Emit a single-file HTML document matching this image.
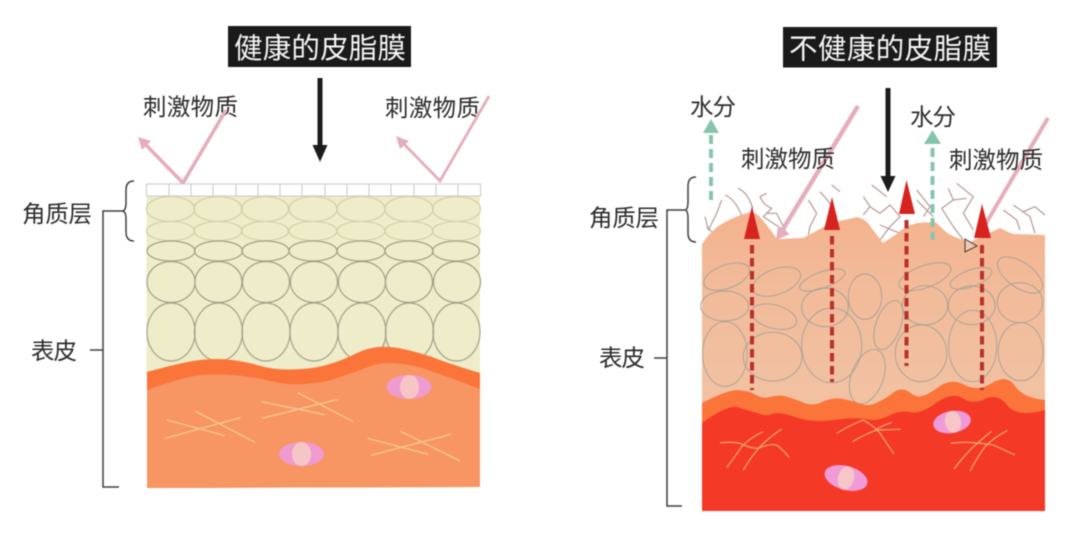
<!DOCTYPE html>
<html lang="zh">
<head>
<meta charset="utf-8">
<style>
html,body{margin:0;padding:0;background:#fff;width:1080px;height:548px;overflow:hidden}
svg{display:block;filter:blur(.45px)}
text{font-family:"Liberation Sans","Noto Sans CJK SC",sans-serif;font-weight:400}
</style>
</head>
<body>
<svg width="1080" height="548" viewBox="0 0 1080 548" xmlns="http://www.w3.org/2000/svg">
<defs>
<linearGradient id="skin" x1="0" y1="0" x2="0" y2="1"><stop offset="0" stop-color="#f5b28d"/><stop offset=".35" stop-color="#f2bb9a"/><stop offset="1" stop-color="#f1c3a4"/></linearGradient>
</defs>
<rect width="1080" height="548" fill="#fff"/>

<!-- LEFT -->
<rect x="228" y="26" width="183" height="41" fill="#1a1a1a"/>
<text x="234" y="58" font-size="28.5" fill="#f5f5f5" textLength="172" lengthAdjust="spacing">健康的皮脂膜</text>
<rect x="317.5" y="78" width="5" height="68" fill="#1c1c1e"/>
<polygon points="312.5,145 327.5,145 320,162" fill="#1c1c1e"/>
<text x="143" y="115" font-size="23.5" fill="#2c2c2c" textLength="95">刺激物质</text>
<text x="385" y="116" font-size="23.5" fill="#2c2c2c" textLength="95">刺激物质</text>

<g fill="none" stroke="#e5aebb">
<polyline points="226,110 183,183 146,145" stroke-width="3.6"/>
<polyline points="489,96 440,181 401,141" stroke-width="2.8"/>
</g>
<polygon points="138,137 151,141 142,150" fill="#e5aebb"/>
<polygon points="396,136 409,141 400,149" fill="#e5aebb"/>

<rect x="146.5" y="196" width="333.5" height="180" fill="#eeecc9"/>
<g fill="none" stroke="#c9c9cd" stroke-width="1">
<rect x="146.5" y="184" width="334" height="12" fill="#fff"/>
<path d="M169 184v12M191 184v12M213 184v12M236 184v12M258 184v12M280 184v12M302 184v12M325 184v12M347 184v12M369 184v12M391 184v12M414 184v12M436 184v12M458 184v12"/>
</g>
<g fill="none" stroke="#d0cea2" stroke-width="1.1">
<ellipse cx="170.5" cy="209" rx="24" ry="12.5"/><ellipse cx="218" cy="209" rx="24" ry="12.5"/><ellipse cx="265" cy="209" rx="23.5" ry="12.5"/><ellipse cx="313" cy="209" rx="24" ry="12.5"/><ellipse cx="361" cy="209" rx="24" ry="12.5"/><ellipse cx="409" cy="209" rx="24" ry="12.5"/><ellipse cx="456.5" cy="209" rx="24" ry="12.5"/>
<ellipse cx="170.5" cy="231" rx="24" ry="9.5"/><ellipse cx="218" cy="231" rx="24" ry="9.5"/><ellipse cx="265" cy="231" rx="23.5" ry="9.5"/><ellipse cx="313" cy="231" rx="24" ry="9.5"/><ellipse cx="361" cy="231" rx="24" ry="9.5"/><ellipse cx="409" cy="231" rx="24" ry="9.5"/><ellipse cx="456.5" cy="231" rx="24" ry="9.5"/>
</g>
<g fill="none" stroke="#a2a188" stroke-width="1.2">
<ellipse cx="171" cy="251" rx="24" ry="10"/><ellipse cx="218.5" cy="251" rx="24" ry="10"/><ellipse cx="265.5" cy="251" rx="23.5" ry="10"/><ellipse cx="313" cy="251" rx="24" ry="10"/><ellipse cx="361" cy="251" rx="24" ry="10"/><ellipse cx="409" cy="251" rx="24" ry="10"/><ellipse cx="456" cy="251" rx="23.5" ry="10"/>
<ellipse cx="171" cy="282" rx="24" ry="20.5"/><ellipse cx="218.5" cy="282" rx="23.5" ry="20.5"/><ellipse cx="266" cy="282" rx="23.5" ry="20.5"/><ellipse cx="314" cy="282" rx="23.5" ry="20.5"/><ellipse cx="362" cy="282" rx="23.5" ry="20.5"/><ellipse cx="409" cy="282" rx="23.5" ry="20.5"/><ellipse cx="457" cy="282" rx="23.5" ry="20.5"/>
<ellipse cx="171" cy="332" rx="24" ry="29"/><ellipse cx="218.5" cy="332" rx="24" ry="29"/><ellipse cx="266" cy="332" rx="24" ry="29"/><ellipse cx="314" cy="332" rx="24" ry="29"/><ellipse cx="362" cy="332" rx="24" ry="29"/><ellipse cx="409.5" cy="332" rx="24" ry="29"/><ellipse cx="456.5" cy="332" rx="23.5" ry="29"/>
</g>
<path d="M147,372 Q183,362 200,360 Q217,358 232,360 Q247,362 257,365 Q267,368 277,369 Q287,370 302,369 Q317,368 330,364 Q343,360 355,354 Q367,348 378,347 Q390,346 403,349 Q417,352 432,357 Q447,363 480,373 L480,487 L147,488 Z" fill="#fb7439"/>
<path d="M147,390 Q183,377 200,375 Q217,374 232,375 Q247,376 262,379 Q277,383 288,384 Q300,385 313,383 Q327,382 340,377 Q353,373 365,368 Q377,363 388,363 Q400,363 415,366 Q430,370 480,389 L480,487 L147,488 Z" fill="#f79563"/>
<ellipse cx="409" cy="387" rx="22.5" ry="12" fill="#f09bd0"/><ellipse cx="409.5" cy="387" rx="9.5" ry="12" fill="#f6c6c6"/>
<ellipse cx="301.5" cy="454" rx="22.5" ry="12" fill="#f09bd0"/><ellipse cx="301.5" cy="454" rx="9.5" ry="12" fill="#f6c6c6"/>
<g transform="translate(0,270) scale(.33333)" stroke="#f8c98e" stroke-width="4" fill="none">
<path d="M500 450L675 497M495 505L722 443M585 423L765 517"/>
<path d="M785 395L975 434M785 445L1015 388M893 368L1060 455"/>
<path d="M1103 505L1285 553M1113 556L1353 493M1200 483L1380 573"/>
</g>

<text x="22" y="222" font-size="23.5" fill="#2c2c2c" textLength="70">角质层</text>
<text x="31" y="359" font-size="23.5" fill="#2c2c2c" textLength="46">表皮</text>
<g fill="none" stroke="#3f3f3f" stroke-width="1.5">
<path d="M134,181 Q126,181 126,190 L126,203 Q126,211 122,211 Q126,211 126,219 L126,232 Q126,241 134,241"/>
<path d="M122,211 H103 V487 H119"/>
<path d="M90,350 H103"/>
</g>

<!-- RIGHT -->
<rect x="783" y="27" width="214" height="40.5" fill="#1a1a1a"/>
<text x="789" y="58.5" font-size="28.5" fill="#f5f5f5" textLength="202">不健康的皮脂膜</text>

<!-- flaking cells above skin -->
<g transform="translate(570,0) scale(.33333)" fill="none" stroke="#b59a93" stroke-width="3.6" stroke-linejoin="round">
<path d="M405 650L415 690L440 640L455 600M410 680L432 702"/>
<path d="M465 585Q500 600 520 660M505 565Q535 580 548 625"/>
<path d="M590 580L570 590Q580 615 605 625L580 650L640 690M590 640L620 640L650 700"/>
<path d="M715 600L740 640L720 680L715 705M750 575Q785 610 800 650M785 555L810 575"/>
<path d="M905 555L950 590M880 590L900 620L880 645M900 620L930 640L960 615L990 650L960 680L930 720M930 675L990 700"/>
<path d="M1040 570L1080 620L1060 650M1040 600L1090 650"/>
<path d="M1135 565L1150 600L1115 625L1150 680L1180 720M1160 550L1210 590L1180 640L1210 690M1150 600L1190 595"/>
<path d="M1300 630L1340 660L1350 690M1330 615L1380 650L1395 700M1360 635L1395 620L1425 645"/>
</g>

<path d="M702,244 Q708,235 717,227 Q730,218 747,213 Q752,211 758,215 Q765,222 777,239 L803,238 Q815,232 830,223 Q845,220 857,217 Q862,218 867,222 L883,243 L898,233 Q905,226 917,223 L935,222 Q940,226 947,233 Q955,238 970,242 Q985,235 1000,228 Q1008,232 1013,234 L1045,235 L1045,420 L702,420 Z" fill="url(#skin)"/>

<g transform="translate(570,270) scale(.33333)" fill="none" stroke="#a8a196" stroke-width="2.8">
<ellipse cx="470" cy="20" rx="72" ry="35" transform="rotate(-20 470 20)"/>
<ellipse cx="620" cy="35" rx="75" ry="38" transform="rotate(-20 620 35)"/>
<ellipse cx="757" cy="30" rx="72" ry="24" transform="rotate(-20 757 30)"/>
<ellipse cx="464" cy="108" rx="72" ry="45"/>
<ellipse cx="612" cy="140" rx="70" ry="35" transform="rotate(15 612 140)"/>
<ellipse cx="765" cy="112" rx="70" ry="58"/>
<ellipse cx="885" cy="80" rx="50" ry="68"/>
<ellipse cx="955" cy="165" rx="37" ry="77" transform="rotate(20 955 165)"/>
<ellipse cx="465" cy="252" rx="67" ry="97"/>
<ellipse cx="608" cy="260" rx="88" ry="73"/>
<ellipse cx="785" cy="226" rx="90" ry="112"/>
<ellipse cx="892" cy="320" rx="48" ry="85" transform="rotate(20 892 320)"/>
<ellipse cx="1065" cy="106" rx="68" ry="59"/>
<ellipse cx="1053" cy="250" rx="77" ry="85"/>
<ellipse cx="1205" cy="106" rx="70" ry="58"/>
<ellipse cx="1208" cy="228" rx="72" ry="107"/>
<ellipse cx="1065" cy="20" rx="82" ry="33" transform="rotate(-20 1065 20)"/>
<ellipse cx="1203" cy="25" rx="66" ry="25" transform="rotate(-20 1203 25)"/>
<ellipse cx="1350" cy="98" rx="68" ry="60"/>
<ellipse cx="1352" cy="245" rx="67" ry="87"/>
<ellipse cx="1350" cy="15" rx="78" ry="38" transform="rotate(35 1350 15)"/>
</g>

<path d="M702,403 Q727,390 738,390 Q750,391 756,395 Q763,399 770,397 Q777,395 784,396 Q792,398 802,402 Q812,407 822,402 Q833,397 843,399 Q853,401 861,404 Q870,407 878,402 Q887,398 894,392 Q902,387 909,392 Q917,398 922,396 Q928,395 940,386 Q952,378 965,385 Q978,392 992,383 Q1007,374 1015,386 Q1023,398 1045,400 L1045,510 L702,510 Z" fill="#fb7439"/>
<path d="M702,423 Q727,405 737,407 Q747,410 757,413 Q767,417 772,414 Q778,411 795,417 Q813,423 833,420 Q853,417 865,419 Q877,422 888,416 Q900,410 910,412 Q920,415 936,403 Q952,392 962,398 Q973,405 985,399 Q998,393 1007,405 Q1017,418 1045,410 L1045,511 L702,511 Z" fill="#f43a27"/>

<g transform="rotate(-10 952 422)"><ellipse cx="952" cy="422" rx="19" ry="11" fill="#f09bd8"/><ellipse cx="953" cy="422" rx="8" ry="11" fill="#f6c6c8"/></g>
<g transform="rotate(15 846 478)"><ellipse cx="846" cy="478" rx="22" ry="12" fill="#f09bd8"/><ellipse cx="846" cy="478" rx="8" ry="12" fill="#f6c6c8"/></g>
<g transform="translate(570,270) scale(.33333)" fill="none" stroke="#f5ae70" stroke-width="3.4">
<path d="M450 518Q500 515 515 522Q540 535 565 535Q600 520 620 525Q640 540 657 562"/>
<path d="M470 593Q495 560 515 530Q545 500 580 485M520 600Q540 565 570 530Q600 500 635 477"/>
<path d="M800 490Q840 465 880 450Q915 470 930 490Q950 520 972 552M848 515Q880 495 920 480L992 478M915 480Q940 465 965 458"/>
<path d="M1142 520Q1180 515 1210 518Q1240 520 1270 525L1335 555"/>
<path d="M1152 597Q1180 560 1210 530L1265 483M1200 603Q1220 565 1245 530Q1275 500 1312 482"/>
</g>

<!-- green arrows -->
<line x1="711" y1="135" x2="711" y2="203" stroke="#88c5ae" stroke-width="4" stroke-dasharray="9 5"/>
<polygon points="711,119 703,133 719,133" fill="#85c4ab"/>
<line x1="932.5" y1="148" x2="932.5" y2="240" stroke="#88c5ae" stroke-width="4" stroke-dasharray="9 5"/>
<polygon points="932.5,130 924,144 941,144" fill="#85c4ab"/>

<!-- pink arrows -->
<line x1="858" y1="106" x2="780" y2="234" stroke="#e5aebb" stroke-width="4.5"/>
<polygon points="776,240 778,226 790,234" fill="#e5aebb"/>
<line x1="1048" y1="118" x2="985" y2="225" stroke="#e5aebb" stroke-width="4"/>

<!-- red arrows -->
<g stroke="#b9302b" stroke-width="4" stroke-dasharray="8.5 4.5">
<line x1="752" y1="245" x2="752" y2="390"/>
<line x1="832" y1="236" x2="832" y2="382"/>
<line x1="906.5" y1="220" x2="906.5" y2="366"/>
<line x1="982" y1="245" x2="982" y2="390"/>
</g>
<g fill="#d7231f">
<polygon points="752,206 744,239 760,239"/>
<polygon points="832,197 824,230 840,230"/>
<polygon points="906.5,180 899,214 915,214"/>
<polygon points="982,204 974,238 991,238"/>
</g>
<polygon points="965,239 977,246 965,252" fill="#f4c8a8" stroke="#3a3a3a" stroke-width="1"/>

<rect x="885.5" y="88" width="5" height="88" fill="#1c1c1e"/>
<polygon points="880.5,176 895.5,176 888,192" fill="#1c1c1e"/>

<text x="690" y="115" font-size="23.5" fill="#2c2c2c" textLength="46">水分</text>
<text x="910" y="125" font-size="23.5" fill="#2c2c2c" textLength="46">水分</text>
<text x="741" y="167" font-size="23.5" fill="#2c2c2c" textLength="94">刺激物质</text>
<text x="949" y="168" font-size="23.5" fill="#2c2c2c" textLength="94">刺激物质</text>
<text x="589" y="226" font-size="23.5" fill="#2c2c2c" textLength="70">角质层</text>
<text x="599" y="366" font-size="23.5" fill="#2c2c2c" textLength="46">表皮</text>
<g fill="none" stroke="#3f3f3f" stroke-width="1.5">
<path d="M696,177 Q688,177 688,186 L688,201 Q688,210 685,210 Q688,210 688,219 L688,233 Q688,242 696,242"/>
<path d="M685,210 H667 V506 H682"/>
<path d="M654,358 H667"/>
</g>
</svg>
</body>
</html>
